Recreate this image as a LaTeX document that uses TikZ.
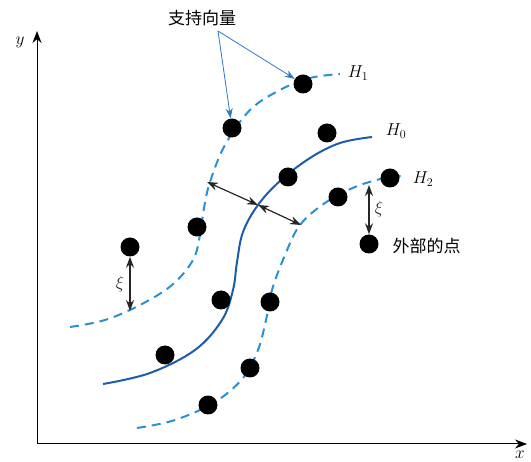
\documentclass[tikz,border=0pt]{standalone}
\usepackage{fontspec}
\newfontfamily\cjk{Noto Sans CJK SC}
\usetikzlibrary{arrows.meta}
\definecolor{hzero}{RGB}{28,92,170}
\definecolor{hside}{RGB}{40,145,210}
\definecolor{pointer}{RGB}{45,120,200}
\tikzset{
  sample/.style={circle, fill=black, inner sep=0pt, minimum size=19pt},
  margin/.style={hside, line width=2pt, dash pattern=on 9pt off 6pt},
  gap/.style={{Stealth[length=11pt,width=8pt]}-{Stealth[length=11pt,width=8pt]}, line width=1.2pt, black!85},
  hint/.style={-{Stealth[length=10pt,width=7pt]}, pointer, line width=0.8pt}
}
\begin{document}
\begin{tikzpicture}[x=1pt, y=-1pt]
        \useasboundingbox (0,0) rectangle (531,462);

        % Axes
        \coordinate (O) at (37,444);
        \coordinate (Ytop) at (37,31);
        \coordinate (Xend) at (527,444);
        \draw[line width=1pt, -{Stealth[length=12pt,width=9pt]}] (O) -- (Ytop);
        \draw[line width=1pt, -{Stealth[length=12pt,width=9pt]}] (O) -- (Xend);
        \node at (20,42) {\fontsize{18}{20}\selectfont $y$};
        \node at (520,455) {\fontsize{18}{20}\selectfont $x$};

        % Hyperplane H0 (solid)
        \draw[hzero, line width=2pt] plot[smooth, tension=0.6] coordinates {
          (103,384) (150,373) (195,350) (222,320) (233,290) (237,262)
          (243,232) (258,205) (280,181) (310,158) (340,143) (372,137)};

        % Margin H1 (dashed)
        \draw[margin] plot[smooth, tension=0.6] coordinates {
          (70,327) (105,320) (140,305) (172,285) (193,260) (200,235)
          (204,208) (210,182) (225,145) (250,110) (280,90) (310,78) (340,74)};

        % Margin H2 (dashed)
        \draw[margin] plot[smooth, tension=0.6] coordinates {
          (137,428) (175,420) (215,402) (243,378) (258,350) (266,320)
          (272,290) (285,255) (300,225) (325,203) (355,187) (385,178) (405,176)};

        % Curve labels
        \node (h1) at (358,73) {\fontsize{17}{18}\selectfont $H_1$};
        \node (h0) at (396,131) {\fontsize{17}{18}\selectfont $H_0$};
        \node (h2) at (423,179) {\fontsize{17}{18}\selectfont $H_2$};

        % Samples
        \node[sample] (s1) at (232,128) {};
        \node[sample] (s2) at (303,84) {};
        \node[sample] (s3) at (327,133) {};
        \node[sample] (s4) at (288,177) {};
        \node[sample] (s5) at (197,227) {};
        \node[sample] (s6) at (130,247) {};
        \node[sample] (s7) at (221,300) {};
        \node[sample] (s8) at (165,355) {};
        \node[sample] (s9) at (270,302) {};
        \node[sample] (s10) at (250,368) {};
        \node[sample] (s11) at (208,405) {};
        \node[sample] (s12) at (338,197) {};
        \node[sample] (s13) at (390,178) {};
        \node[sample] (s14) at (369,244) {};

        % Margin width arrows
        \coordinate (C) at (258,205);
        \coordinate (M1) at (207,182);
        \coordinate (M2) at (301,225);
        \draw[gap] (M1) -- (C);
        \draw[gap] (C) -- (M2);

        % Slack arrows
        \coordinate (X1) at (130,311);
        \coordinate (X2) at (369,185);
        \draw[gap] (s6) -- (X1) node[midway, left=2pt] {\fontsize{17}{18}\selectfont $\xi$};
        \draw[gap] (X2) -- (s14) node[midway, right=2pt] {\fontsize{17}{18}\selectfont $\xi$};

        % Text labels
        \node (sv) at (202,18) {\fontsize{17}{20}\selectfont\cjk 支持向量};
        \coordinate (svs) at (218,31);
        \draw[hint] (svs) -- (s1);
        \draw[hint] (svs) -- (s2);
        \node[anchor=west] (out) at (389,246) {\fontsize{17}{20}\selectfont\cjk 外部的点};

\end{tikzpicture}
\end{document}
